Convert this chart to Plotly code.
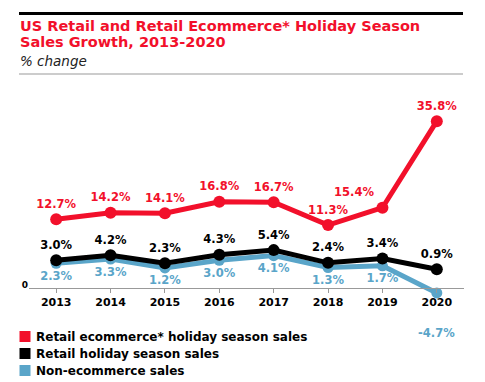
import plotly.graph_objects as go

years = [2013, 2014, 2015, 2016, 2017, 2018, 2019, 2020]
ecommerce = [12.7, 14.2, 14.1, 16.8, 16.7, 11.3, 15.4, 35.8]
retail = [3.0, 4.2, 2.3, 4.3, 5.4, 2.4, 3.4, 0.9]
non_ecommerce = [2.3, 3.3, 1.2, 3.0, 4.1, 1.3, 1.7, -4.7]
series_names = ["Retail ecommerce* holiday season sales",
                "Retail holiday season sales",
                "Non-ecommerce sales"]
title_lines = ["US Retail and Retail Ecommerce* Holiday Season",
               "Sales Growth, 2013-2020"]
subtitle = "% change"

RED = "#f2102b"
BLACK = "#000000"
BLUE = "#5aa5c9"
FONT = "DejaVu Sans"

W, H = 485, 382
ML, MR, MT, MB = 29, 21, 100, 62
PW, PH = W - ML - MR, H - MT - MB


def px(x):
    return (x - ML) / PW


def py(y):
    return (H - MB - y) / PH


fig = go.Figure()


def add_series(vals, color, pos, labels, msize):
    fig.add_trace(go.Scatter(
        x=years, y=vals, mode="lines+markers+text",
        line=dict(color=color, width=5),
        marker=dict(color=color, size=msize),
        text=labels, textposition=pos,
        textfont=dict(family=FONT, size=11.5, color=color, weight="bold"),
        cliponaxis=False, showlegend=False, hoverinfo="x+y"))


blue_labels = [f"{v}%" for v in non_ecommerce[:-1]] + [""]
red_pos = ["top center"] * 6 + ["top left", "top center"]
add_series(non_ecommerce, BLUE, "bottom center", blue_labels, 11)
add_series(retail, BLACK, "top center", [f"{v}%" for v in retail], 12)
add_series(ecommerce, RED, red_pos, [f"{v}%" for v in ecommerce], 12)

annotations = [
    dict(x=years[-1], y=non_ecommerce[-1], xref="x", yref="y",
         text=f"{non_ecommerce[-1]}%", showarrow=False, yshift=-40,
         font=dict(family=FONT, size=11.5, color=BLUE, weight="bold")),
    dict(x=px(18), y=py(26), xref="paper", yref="paper", xanchor="left", yanchor="middle",
         text=title_lines[0], showarrow=False,
         font=dict(family=FONT, size=14.5, color=RED, weight="bold")),
    dict(x=px(18), y=py(42), xref="paper", yref="paper", xanchor="left", yanchor="middle",
         text=title_lines[1], showarrow=False,
         font=dict(family=FONT, size=14.5, color=RED, weight="bold")),
    dict(x=px(18), y=py(60.5), xref="paper", yref="paper", xanchor="left", yanchor="middle",
         text=subtitle, showarrow=False,
         font=dict(family=FONT, size=13.5, color="#222222", style="italic")),
]

shapes = [
    dict(type="line", xref="paper", yref="paper", x0=px(19), x1=px(463), y0=py(13.5), y1=py(13.5),
         line=dict(color="black", width=3)),
    dict(type="line", xref="paper", yref="paper", x0=px(19), x1=px(463), y0=py(74), y1=py(74),
         line=dict(color="#999999", width=1)),
]

legend_colors = [RED, BLACK, BLUE]
legend_centers = [336.5, 353.5, 370.5]
for name, col, cy in zip(series_names, legend_colors, legend_centers):
    shapes.append(dict(type="rect", xref="paper", yref="paper",
                       x0=px(19.5), x1=px(30.5), y0=py(cy - 5.5), y1=py(cy + 5.5),
                       fillcolor=col, line=dict(width=0)))
    annotations.append(dict(x=px(34), y=py(cy), xref="paper", yref="paper",
                            xanchor="left", yanchor="middle", text=name, showarrow=False,
                            font=dict(family=FONT, size=12, color="black", weight="bold")))

fig.update_layout(
    width=W, height=H,
    margin=dict(l=ML, r=MR, t=MT, b=MB, pad=0),
    paper_bgcolor="white", plot_bgcolor="white",
    showlegend=False,
    annotations=annotations, shapes=shapes,
    xaxis=dict(range=[2012.5, 2020.5], tickvals=years, ticktext=[str(y) for y in years],
               anchor="free", position=py(287.5),
               showline=True, linecolor="#999999", linewidth=1,
               ticks="outside", ticklen=4, tickcolor="#999999", tickwidth=1,
               showgrid=False, zeroline=False,
               tickfont=dict(family=FONT, size=11, color="black", weight="bold")),
    yaxis=dict(range=[-11.08, 40.8], tickvals=[0], ticktext=["0"], ticklabelshift=12,
               showgrid=False, zeroline=False, showline=False, ticks="",
               tickfont=dict(family=FONT, size=9, color="black", weight="bold")),
)

fig.write_html("out.html", config={"displayModeBar": False},
               post_script="document.body.style.margin='0px';document.body.style.overflow='hidden';")
